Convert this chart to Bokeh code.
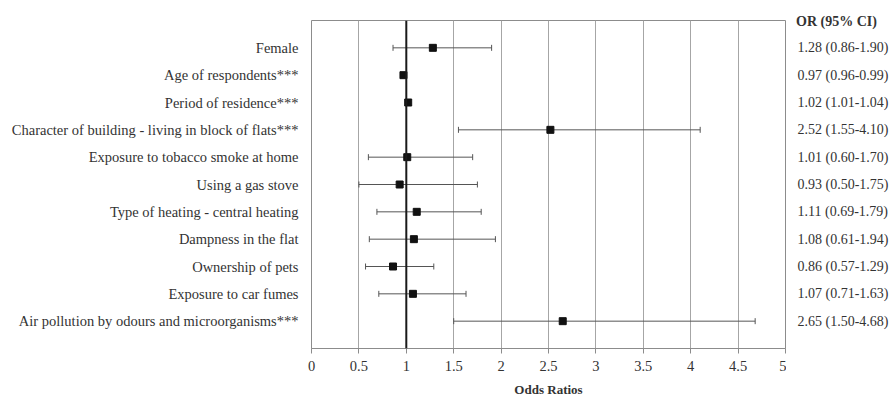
from bokeh.plotting import figure
from bokeh.layouts import row
from bokeh.models import (ColumnDataSource, FixedTicker, LinearAxis, Range1d, Span,
                          Whisker, TeeHead, NumeralTickFormatter)
from bokeh.core.properties import value
from bokeh.embed import file_html
from bokeh.resources import INLINE

factors = [
    "Female",
    "Age of respondents***",
    "Period of residence***",
    "Character of building - living in block of flats***",
    "Exposure to tobacco smoke at home",
    "Using a gas stove",
    "Type of heating - central heating",
    "Dampness in the flat",
    "Ownership of pets",
    "Exposure to car fumes",
    "Air pollution by odours and microorganisms***",
]
odds = [1.28, 0.97, 1.02, 2.52, 1.01, 0.93, 1.11, 1.08, 0.86, 1.07, 2.65]
ci_low = [0.86, 0.96, 1.01, 1.55, 0.60, 0.50, 0.69, 0.61, 0.57, 0.71, 1.50]
ci_high = [1.90, 0.99, 1.04, 4.10, 1.70, 1.75, 1.79, 1.94, 1.29, 1.63, 4.68]
x_ticks = [0, 0.5, 1, 1.5, 2, 2.5, 3, 3.5, 4, 4.5, 5]
header = "OR (95% CI)"

n = len(factors)
ypos = [n - i for i in range(n)]
or_text = [f"{o:.2f} ({l:.2f}-{h:.2f})" for o, l, h in zip(odds, ci_low, ci_high)]

src = ColumnDataSource(dict(y=ypos, odds=odds, lo=ci_low, hi=ci_high, txt=or_text))

FONT = "Liberation Serif"
FS = "14.5px"
TXT = "#333333"
GRID = "#a6a6a6"

TOP, BOTTOM, H = 20, 51, 399
ymax = n + 1

p = figure(width=786, height=H, output_backend="svg", toolbar_location=None,
           title_location=None,
           x_range=Range1d(0, 5), y_range=Range1d(0, ymax),
           min_border_left=311, min_border_right=1, min_border_top=TOP, min_border_bottom=BOTTOM,
           x_axis_location=None, y_axis_location=None)
p.outline_line_color = "#8c8c8c"
p.outline_line_width = 1
p.background_fill_color = "white"
p.border_fill_color = "white"

# bottom axis
xa = LinearAxis(ticker=FixedTicker(ticks=x_ticks), formatter=NumeralTickFormatter(format="0.[0]"))
xa.axis_label = "Odds Ratios"
xa.axis_label_text_font = FONT
xa.axis_label_text_font_style = "bold"
xa.axis_label_text_font_size = "13px"
xa.axis_label_text_color = TXT
xa.axis_label_standoff = 8
xa.major_label_text_font = FONT
xa.major_label_text_font_size = FS
xa.major_label_text_color = TXT
xa.major_label_standoff = 7
xa.axis_line_color = "#8c8c8c"
xa.major_tick_line_color = "#8c8c8c"
xa.major_tick_out = 5
xa.major_tick_in = 0
xa.minor_tick_line_color = None
p.add_layout(xa, "below")

# left labels
ya = LinearAxis(ticker=FixedTicker(ticks=ypos),
                major_label_overrides={y: f for y, f in zip(ypos, factors)})
ya.axis_line_color = None
ya.major_tick_line_color = None
ya.minor_tick_line_color = None
ya.major_tick_out = 0
ya.major_tick_in = 0
ya.major_label_standoff = 13
ya.major_label_text_font = FONT
ya.major_label_text_font_size = FS
ya.major_label_text_color = TXT
p.add_layout(ya, "left")

# grid
p.xgrid.ticker = FixedTicker(ticks=x_ticks)
p.xgrid.grid_line_color = GRID
p.xgrid.grid_line_width = 1
p.ygrid.grid_line_color = None

p.add_layout(Span(location=1, dimension="height", line_color="#1a1a1a", line_width=2))

# error bars
w = Whisker(source=src, base="y", lower="lo", upper="hi", dimension="width",
            line_color="#555555", line_width=1,
            lower_head=TeeHead(size=6, line_color="#555555", line_width=1),
            upper_head=TeeHead(size=6, line_color="#555555", line_width=1))
p.add_layout(w)

p.scatter("odds", "y", source=src, marker="square", size=7,
          fill_color="#111111", line_color="#111111")

# right-hand column: OR (95% CI)
W2 = 891 - 786
p2 = figure(width=W2, height=H, output_backend="svg", toolbar_location=None,
            title_location=None,
            x_range=Range1d(0, W2), y_range=Range1d(0, ymax),
            min_border_left=0, min_border_right=0, min_border_top=TOP, min_border_bottom=BOTTOM,
            x_axis_location=None, y_axis_location=None)
p2.outline_line_color = None
p2.grid.grid_line_color = None
p2.background_fill_color = "white"
p2.border_fill_color = "white"

p2.text(x=11, y="y", text="txt", source=src, text_font=value(FONT), text_font_size="14px",
        text_color=TXT, text_align="left", text_baseline="middle")

HX = 50
ha = LinearAxis(ticker=FixedTicker(ticks=[HX]), major_label_overrides={HX: header})
ha.axis_line_color = None
ha.major_tick_line_color = None
ha.minor_tick_line_color = None
ha.major_tick_out = 0
ha.major_tick_in = 0
ha.major_label_standoff = -8
ha.major_label_text_font = FONT
ha.major_label_text_font_size = "14px"
ha.major_label_text_font_style = "bold"
ha.major_label_text_color = TXT
p2.add_layout(ha, "above")

layout = row(p, p2, spacing=0)
open("out.html", "w").write(file_html(layout, INLINE))
